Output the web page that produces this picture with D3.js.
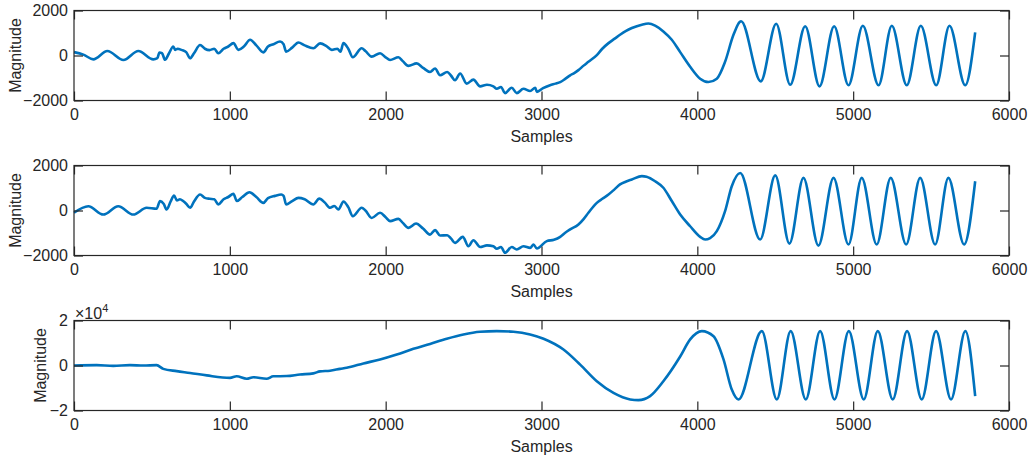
<!DOCTYPE html>
<html>
<head>
<meta charset="utf-8">
<script src="https://cdn.jsdelivr.net/npm/d3@7"></script>
<style>
  html, body { margin: 0; padding: 0; background: #fff; }
  svg { display: block; }
  text { font-family: "Liberation Sans", Arial, Helvetica, sans-serif; fill: #262626; }
</style>
</head>
<body>
<svg id="chart" width="1029" height="459"></svg>
<script>
// ---------- DATA ----------
const xTicks = [0, 1000, 2000, 3000, 4000, 5000, 6000];
const yTicks12 = [-2000, 0, 2000];
const yTicks3 = [-20000, 0, 20000];

const samples1 = [0,60,124,214,317,413,509,535,548,565,584,610,637,650,665,690,720,745,770,809,840,870,900,926,960,990,1023,1055,1090,1130,1170,1215,1245,1280,1322,1345,1361,1400,1440,1480,1536,1579,1620,1654,1690,1710,1729,1760,1789,1846,1870,1910,1964,2000,2028,2082,2110,2146,2199,2240,2285,2317,2349,2395,2420,2445,2478,2520,2563,2606,2650,2691,2713,2740,2766,2809,2841,2884,2927,2960,2970,3010,3055,3090,3120,3150,3184,3210,3237,3270,3301,3355,3390,3430,3470,3504,3540,3580,3644,3686,3729,3782,3836,3890,3954,4018,4071,4125,4178,4232,4281,4407,4506,4596,4692,4784,4878,4970,5062,5163,5248,5344,5434,5533,5618,5719,5783];
const values1 = [150,40,-170,200,-200,200,-170,-120,130,100,-190,100,400,250,300,250,150,-120,100,470,300,240,300,100,300,400,550,250,400,700,450,140,400,500,620,500,170,350,580,450,320,540,420,250,300,170,550,300,-80,320,200,-50,100,-80,-200,-80,-250,-460,-350,-550,-730,-580,-880,-730,-900,-1100,-800,-1250,-1070,-1370,-1300,-1370,-1480,-1400,-1670,-1430,-1670,-1480,-1580,-1430,-1620,-1450,-1320,-1250,-1180,-1050,-880,-780,-650,-450,-280,20,300,550,750,920,1080,1220,1370,1420,1330,1070,700,150,-500,-1030,-1180,-1030,-280,920,1520,-1150,1410,-1300,1300,-1370,1300,-1320,1320,-1320,1320,-1320,1320,-1320,1320,-1320,1030];

const samples2 = [0,92,188,284,381,466,530,552,575,595,620,642,660,680,700,720,745,770,809,840,870,900,926,960,990,1023,1045,1080,1126,1170,1215,1245,1290,1330,1345,1361,1400,1440,1480,1536,1574,1610,1643,1670,1697,1729,1760,1789,1846,1870,1910,1964,2000,2028,2082,2110,2146,2195,2240,2285,2317,2349,2395,2420,2445,2495,2531,2563,2606,2650,2691,2713,2740,2766,2809,2841,2884,2927,2949,2970,3034,3080,3120,3150,3184,3237,3270,3301,3355,3390,3430,3470,3504,3540,3580,3644,3674,3729,3782,3836,3890,3954,4018,4050,4082,4125,4178,4221,4275,4403,4500,4591,4681,4777,4874,4970,5055,5151,5241,5340,5430,5526,5611,5712,5783];
const values2 = [-100,190,-180,190,-180,120,75,415,300,45,400,670,450,500,420,300,120,400,710,560,520,500,270,500,600,740,420,600,810,600,340,550,650,710,650,270,420,560,500,270,530,350,120,200,45,400,150,-250,120,0,-330,-100,-300,-470,-370,-550,-770,-580,-800,-1070,-870,-1110,-1100,-1250,-1440,-1170,-1590,-1320,-1620,-1550,-1590,-1700,-1620,-1880,-1620,-1730,-1590,-1660,-1510,-1690,-1360,-1300,-1170,-1000,-840,-620,-380,-100,340,520,710,950,1160,1280,1380,1530,1500,1300,1010,420,-180,-700,-1170,-1290,-1230,-920,-30,1080,1670,-1290,1560,-1470,1450,-1560,1450,-1510,1450,-1510,1450,-1510,1450,-1510,1450,-1510,1300];

const samples3 = [0,145,252,359,445,530,573,659,745,852,1001,1044,1108,1151,1236,1279,1365,1450,1536,1579,1643,1707,1750,1857,1964,2071,2178,2285,2392,2499,2606,2713,2820,2927,3013,3141,3248,3355,3462,3569,3622,3697,3782,3890,3954,4029,4104,4168,4221,4264,4414,4510,4599,4696,4788,4880,4972,5068,5158,5254,5346,5440,5532,5628,5720,5783];
const values3 = [0,150,-150,150,0,150,-1500,-2500,-3300,-4400,-5500,-4800,-5900,-5200,-5900,-4800,-4700,-4000,-3500,-2600,-2300,-1500,-1000,900,2700,4900,7400,9600,11900,13800,15000,15300,15000,13800,11900,7100,400,-7000,-12200,-15100,-15400,-13600,-7000,4000,11600,15300,13000,2700,-10700,-15100,15300,-15100,15300,-15100,15300,-15100,15300,-15100,15300,-15100,15300,-15100,15300,-15100,15300,-13600];

// ---------- LAYOUT ----------
const svg = d3.select("#chart");
const left = 74, right = 1009, plotH = 90;
const tops = [10.5, 165.5, 320.5];
const lineColor = "#0072BD";
const axisColor = "#262626";

const panels = [
  { xs: samples1, ys: values1, ticks: yTicks12, domain: [-2000, 2000], fmt: d => d3.format("d")(d), labelX: 21, exp: false },
  { xs: samples2, ys: values2, ticks: yTicks12, domain: [-2000, 2000], fmt: d => d3.format("d")(d), labelX: 21, exp: false },
  { xs: samples3, ys: values3, ticks: yTicks3, domain: [-20000, 20000], fmt: d => d3.format("d")(d / 10000), labelX: 46, exp: true }
];

const x = d3.scaleLinear().domain([0, 6000]).range([left, right]);

panels.forEach((p, i) => {
  const top = tops[i];
  const y = d3.scaleLinear().domain(p.domain).range([top + plotH, top]);
  const g = svg.append("g");

  // data line
  const line = d3.line()
    .x((d, k) => x(p.xs[k]))
    .y((d, k) => y(p.ys[k]))
    .curve(d3.curveMonotoneX);
  g.append("path")
    .datum(p.ys)
    .attr("d", line)
    .attr("fill", "none")
    .attr("stroke", lineColor)
    .attr("stroke-width", 2.6)
    .attr("stroke-linejoin", "round");

  // axes with inward ticks
  const bottom = g.append("g").attr("transform", `translate(0,${top + plotH})`)
    .call(d3.axisBottom(x).tickValues(xTicks).tickSize(-9).tickSizeOuter(0).tickPadding(8.5).tickFormat(d3.format("d")));
  const topAx = g.append("g").attr("transform", `translate(0,${top})`)
    .call(d3.axisTop(x).tickValues(xTicks).tickSize(-9).tickSizeOuter(0).tickFormat(""));
  const leftAx = g.append("g").attr("transform", `translate(${left},0)`)
    .call(d3.axisLeft(y).tickValues(p.ticks).tickSize(-9).tickSizeOuter(0).tickPadding(6).tickFormat(p.fmt));
  const rightAx = g.append("g").attr("transform", `translate(${right},0)`)
    .call(d3.axisRight(y).tickValues(p.ticks).tickSize(-9).tickSizeOuter(0).tickFormat(""));

  [bottom, topAx, leftAx, rightAx].forEach(a => {
    a.select(".domain").remove();
    a.selectAll("line").attr("stroke", axisColor).attr("stroke-width", 1.2);
    a.selectAll("text").attr("font-size", 16).attr("fill", axisColor)
      .attr("font-family", '"Liberation Sans", Arial, sans-serif');
  });

  // box
  g.append("rect")
    .attr("x", left).attr("y", top)
    .attr("width", right - left).attr("height", plotH)
    .attr("fill", "none").attr("stroke", axisColor).attr("stroke-width", 1.2);

  // x label
  g.append("text")
    .attr("x", (left + right) / 2).attr("y", top + plotH + 41)
    .attr("text-anchor", "middle").attr("font-size", 16)
    .text("Samples");

  // y label
  g.append("text")
    .attr("transform", `translate(${p.labelX},${top + plotH / 2}) rotate(-90)`)
    .attr("text-anchor", "middle").attr("font-size", 16)
    .text("Magnitude");

  if (p.exp) {
    const t = g.append("text").attr("x", left + 1).attr("y", top - 2).attr("font-size", 16);
    t.append("tspan").text("×10");
    t.append("tspan").attr("dy", -7).attr("font-size", 11).text("4");
  }
});
</script>
</body>
</html>
